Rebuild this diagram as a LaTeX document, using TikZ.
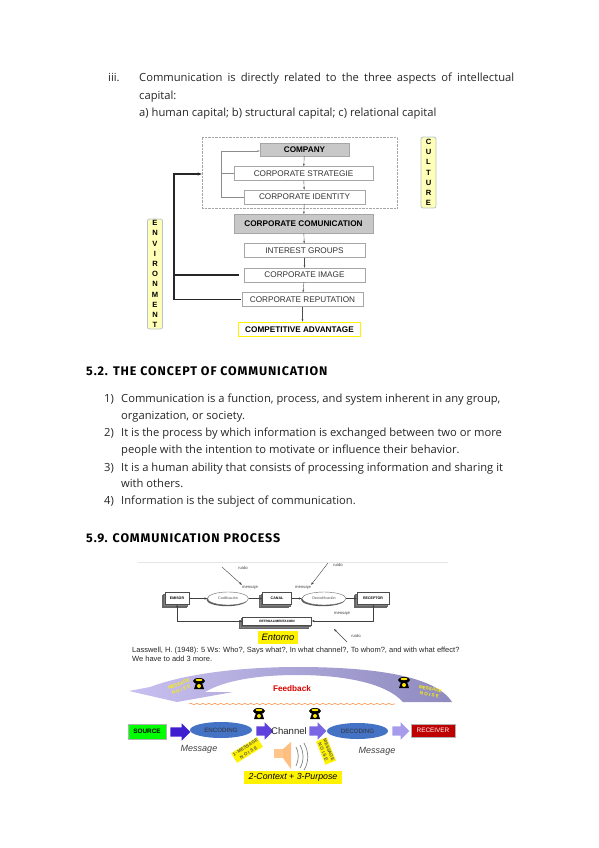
\documentclass[tikz,border=0pt]{standalone}
\usepackage{fontspec}
\setmainfont{Open Sans}
\newfontfamily\arialfont{Liberation Sans}
\newfontfamily\headfont[LetterSpace=7]{Fira Sans}
\usetikzlibrary{arrows.meta,positioning,shapes.geometric,shapes.arrows,shadows,decorations.pathmorphing}
\definecolor{bodyink}{HTML}{262626}
\definecolor{boxgrey}{HTML}{C8C8C8}
\definecolor{boxedge}{HTML}{A6A6A6}
\definecolor{notefill}{HTML}{FFFFB8}
\definecolor{noteedge}{HTML}{B5C4CC}
\definecolor{ovalblue}{HTML}{4472C4}
\definecolor{arrowone}{HTML}{3D1FCF}
\definecolor{arrowtwo}{HTML}{5F40DC}
\definecolor{arrowthree}{HTML}{7A66E4}
\definecolor{arrowfour}{HTML}{A79CEC}
\definecolor{backlight}{HTML}{C8C0F0}
\definecolor{backdark}{HTML}{8E8ABF}
\newcommand{\sz}[1]{\fontsize{#1}{#1}\selectfont}
\tikzset{
  para/.style={anchor=base west, inner sep=0pt, text=bodyink, font=\sz{11.2}},
  heading/.style={anchor=base west, inner sep=0pt, text=black, font=\headfont\bfseries\sz{12.5}},
  plainbox/.style={draw=boxedge, fill=white, inner sep=0pt, minimum height=14pt, font=\arialfont\sz{8.2}, text=black!80},
  greybox/.style={draw=boxedge, fill=boxgrey, inner sep=0pt, font=\arialfont\bfseries\sz{8.2}},
  sidenote/.style={draw=noteedge, thick, fill=notefill, rounded corners=2pt, inner sep=0pt, align=center, font=\arialfont\bfseries\sz{7.6}},
  tinyflow/.style={-{Stealth[length=2.5pt]}, draw=black!70, thin},
  envline/.style={line width=1.1pt, draw=black!85},
  loopline/.style={draw=black!45, line width=.6pt},
  shadowbox/.style={draw=black!70, fill=white, inner sep=0pt, minimum height=12pt, font=\arialfont\bfseries\sz{3.6},
                    double copy shadow={shadow xshift=-1.5pt, shadow yshift=-1.5pt, draw=black!60, fill=black!50}},
  codeoval/.style={ellipse, draw=black!60, fill=white, inner sep=0pt, minimum height=13pt, font=\arialfont\sz{3.6}, text=black!70,
                   copy shadow={shadow xshift=-1pt, shadow yshift=-1.2pt, draw=none, fill=black!65}},
  smalllabel/.style={inner sep=0pt, font=\arialfont\sz{4.2}, text=black!75},
  smallflow/.style={-{Stealth[length=3pt]}, draw=black!75, line width=.4pt},
  blockarrow/.style={single arrow, draw=none, inner sep=0pt, minimum height=17pt, single arrow head extend=4pt, single arrow head indent=0pt},
  procoval/.style={ellipse, fill=ovalblue, inner sep=0pt, font=\arialfont\sz{6.2}, text=black!80},
  msglabel/.style={inner sep=0pt, font=\arialfont\itshape\sz{9}, text=black!75},
  noiselabel/.style={inner sep=1pt, align=center, font=\arialfont\bfseries\sz{4.6}},
  noisephone/.pic={
    \fill[black] (-5,5) -- (-3,-1) -- (3,-1) -- (5,5) -- cycle;
    \fill[black] (0,-3) ellipse (6 and 3);
    \fill[yellow!85!orange] (0,-4) ellipse (3.5 and 1.2);
    \fill[yellow!85!orange] (0,2) circle (2);
  },
}
\begin{document}
\begin{tikzpicture}[x=1pt, y=-1pt]
\useasboundingbox (0,0) rectangle (599,848);
% page text, top
\node[para] (numiii) at (108,82) {iii.};
\node[para] (iiia) at (139,82) {\makebox[375pt][s]{Communication is directly related to the three aspects of intellectual}};
\node[para] (iiib) at (139,100) {capital:};
\node[para] (iiic) at (139,117) {a) human capital; b) structural capital; c) relational capital};
% company diagram
\node[draw=black!35, densely dotted, inner sep=0pt, minimum width=195pt, minimum height=71pt] (culturebox) at (299.5,172.5) {};
\node[greybox, minimum width=89pt, minimum height=13pt] (company) at (304.5,149.5) {COMPANY};
\node[plainbox, minimum width=139pt, below=10pt of company, xshift=-1pt] (strategie) {CORPORATE STRATEGIE};
\node[plainbox, minimum width=121pt, below=9pt of strategie, xshift=1pt] (identity) {CORPORATE IDENTITY};
\node[greybox, minimum width=139pt, minimum height=19pt, below=10pt of identity, xshift=-1pt] (comunication) {CORPORATE COMUNICATION};
\node[plainbox, minimum width=121pt, below=10pt of comunication, xshift=1pt] (interest) {INTEREST GROUPS};
\node[plainbox, minimum width=121pt, below=10pt of interest] (image) {CORPORATE IMAGE};
\node[plainbox, minimum width=121pt, below=10pt of image, xshift=-2pt] (reputation) {CORPORATE REPUTATION};
\node[plainbox, minimum width=122pt, below=15pt of reputation, xshift=-3pt, draw=yellow, line width=1.2pt, font=\arialfont\bfseries\sz{8.2}, text=black] (advantage) {COMPETITIVE ADVANTAGE};
\node[sidenote, minimum width=15pt, minimum height=71pt] (culture) at (428.5,172.5) {C\\[2.6pt]U\\[2.6pt]L\\[2.6pt]T\\[2.6pt]U\\[2.6pt]R\\[2.6pt]E};
\node[sidenote, minimum width=15pt, minimum height=110pt] (environment) at (155,274) {E\\[2.6pt]N\\[2.6pt]V\\[2.6pt]I\\[2.6pt]R\\[2.6pt]O\\[2.6pt]N\\[2.6pt]M\\[2.6pt]E\\[2.6pt]N\\[2.6pt]T};
\draw[tinyflow] (company) -- (strategie);
\draw[tinyflow] (strategie) -- (identity);
\draw[tinyflow] (identity) -- (comunication);
\draw[tinyflow] (comunication) -- (interest);
\draw[tinyflow] (interest) -- (image);
\draw[tinyflow] (image) -- (reputation);
\draw[tinyflow] (reputation) -- (reputation |- advantage.north);
\coordinate (loopx) at (221,151);
\draw[loopline] (identity.west) -| (loopx);
\draw[loopline, -{Stealth[length=2.5pt]}] (loopx) -- (company.west |- loopx);
\draw[loopline] (strategie.west) -- (strategie.west -| loopx);
\coordinate (envx) at (174,174);
\draw[envline, -{Stealth[length=4pt]}] ([xshift=-5pt]image.west) -| (envx) -- (culturebox.west |- envx);
\draw[envline] ([xshift=-1pt]reputation.west) -| (envx);
% section 5.2
\node[heading] (headb) at (86,375) {5.2. THE CONCEPT OF COMMUNICATION};
\node[para] (lia) at (104,402) {1)};
\node[para] (lib) at (121,402) {Communication is a function, process, and system inherent in any group,};
\node[para] (lic) at (121,419) {organization, or society.};
\node[para] (lid) at (104,436) {2)};
\node[para] (lie) at (121,436) {It is the process by which information is exchanged between two or more};
\node[para] (lif) at (121,453) {people with the intention to motivate or influence their behavior.};
\node[para] (lig) at (104,471) {3)};
\node[para] (lih) at (121,471) {It is a human ability that consists of processing information and sharing it};
\node[para] (lii) at (121,487) {with others.};
\node[para] (lij) at (104,504) {4)};
\node[para] (lik) at (121,504) {Information is the subject of communication.};
\node[heading] (headc) at (86,542) {5.9. COMMUNICATION PROCESS};
% spanish model
\coordinate (rulea) at (138,562);
\coordinate (ruleb) at (448,562);
\draw[black!10, line width=.4pt] (rulea) -- (ruleb);
\node[shadowbox, minimum width=24pt] (emisor) at (177,598.5) {EMISOR};
\node[codeoval, minimum width=41pt] (codif) at (228,598.5) {Codificación};
\node[shadowbox, minimum width=29pt] (canal) at (277,598.5) {CANAL};
\node[codeoval, minimum width=44pt] (decod) at (324,598.5) {Decodificación};
\node[shadowbox, minimum width=32pt] (receptor) at (373,598.5) {RECEPTOR};
\node[shadowbox, minimum width=69pt, minimum height=8pt, font=\arialfont\bfseries\sz{3.2}] (retro) at (277,621) {RETROALIMENTACION};
\node[fill=yellow, inner sep=0pt, minimum width=40pt, minimum height=13pt, font=\arialfont\itshape\sz{9.3}] (entorno) at (278,637.5) {Entorno};
\draw[smallflow] (emisor) -- (codif);
\draw[smallflow] (codif) -- (canal);
\draw[smallflow] (canal) -- (decod);
\draw[smallflow] (decod) -- (receptor);
\draw[smallflow] (receptor.south) |- (retro.east);
\draw[smallflow] (retro.west) -| (emisor.south);
\node[smalllabel] (ruidoa) at (243,568) {ruido};
\node[smalllabel] (ruidob) at (338,565) {ruido};
\node[smalllabel] (ruidoc) at (356,636) {ruido};
\node[smalllabel] (mensajea) at (250,587) {mensaje};
\node[smalllabel] (mensajeb) at (303,587) {mensaje};
\node[smalllabel] (mensajec) at (342,613) {mensaje};
\coordinate (noisea) at (222,567);
\coordinate (noiseb) at (328,563);
\coordinate (noisec) at (347,642);
\coordinate (noised) at (334,629);
\draw[smallflow] (noisea) -- (mensajea.north west);
\draw[smallflow] (noiseb) -- (mensajeb.north east);
\draw[smallflow] (noisec) -- (noised);
\node[anchor=base west, inner sep=0pt, font=\arialfont\sz{7.5}, text=black!85] (lasswella) at (132,652.5) {Lasswell, H. (1948): 5 Ws: Who?, Says what?, In what channel?, To whom?, and with what effect?};
\node[anchor=base west, inner sep=0pt, font=\arialfont\sz{7.5}, text=black!85] (lasswellb) at (132,661.5) {We have to add 3 more.};
% feedback arrow
\shade[left color=backlight, right color=backdark, draw=none]
  (129,691) -- (150,687) .. controls (190,672) and (250,667) .. (297,667)
  .. controls (370,667) and (435,675) .. (452,702) -- (403,702)
  .. controls (385,682) and (340,675) .. (297,675)
  .. controls (260,675) and (225,680) .. (205,692) -- (233,692) -- (177,702) -- cycle;
\node[inner sep=0pt, font=\arialfont\bfseries\sz{8.2}, text=red!85!black] (feedback) at (292,689) {Feedback};
\coordinate (wavea) at (189,704);
\coordinate (waveb) at (395,704);
\draw[orange!80!red!70, line width=.6pt, decorate, decoration={snake, amplitude=.6pt, segment length=6pt}] (wavea) -- (waveb);
\node[noiselabel, text=yellow, rotate=22] (noiseleft) at (180,687) {MESSAGE\\[1.5pt]N O I S E};
\node[noiselabel, text=yellow, rotate=-10] (noiseright) at (430,692) {MESSAGE\\[1.5pt]N O I S E};
\pic at (199,684) {noisephone};
\pic at (404,683) {noisephone};
\pic at (259,714) {noisephone};
\pic at (315,714) {noisephone};
% process row
\node[draw=black!30, fill=green, inner sep=0pt, minimum width=38pt, minimum height=15pt, font=\arialfont\bfseries\sz{6.4}] (source) at (147,731.5) {SOURCE};
\node[blockarrow, fill=arrowone, minimum height=20pt] (arrowa) at (178,732) {\rule{0pt}{9pt}};
\node[procoval, minimum width=62pt, minimum height=16pt] (encoding) at (221,730) {ENCODING};
\node[blockarrow, fill=arrowtwo] (arrowb) at (262.5,731) {\rule{0pt}{9pt}};
\node[inner sep=0pt, font=\arialfont\sz{9.6}, text=black!85] (channel) at (289,731) {Channel};
\node[blockarrow, fill=arrowthree] (arrowc) at (315.5,731) {\rule{0pt}{9pt}};
\node[procoval, minimum width=61pt, minimum height=16pt] (decoding) at (357.5,731) {DECODING};
\node[blockarrow, fill=arrowfour] (arrowd) at (398.5,731) {\rule{0pt}{9pt}};
\node[draw=black!30, fill=red!75!black, inner sep=0pt, minimum width=44pt, minimum height=13pt, font=\arialfont\sz{6.4}, text=white] (receiver) at (433,730.5) {RECEIVER};
\node[msglabel] (msga) at (199,749) {Message};
\node[msglabel] (msgb) at (377,751) {Message};
\node[noiselabel, fill=yellow, rotate=32, text=black!65] (noisefirst) at (247,750) {1- MESSAGE\\[1.5pt]N O I S E};
\node[noiselabel, fill=yellow, rotate=-68, text=black!65] (noisethird) at (326,751) {MESSAGE\\[1.5pt]N O I S E};
% speaker
\fill[orange!45!white] (274,749) rectangle (283,758);
\fill[orange!50!white] (283,749) -- (291,742) -- (291,769) -- (283,758) -- cycle;
\draw[black!50, line width=.7pt] (296,747) .. controls (299,752) and (299,760) .. (296,766);
\draw[black!50, line width=.7pt] (300,745) .. controls (304,752) and (304,762) .. (300,768);
\draw[black!50, line width=.7pt] (304,743) .. controls (309,752) and (309,762) .. (304,770);
\node[fill=yellow, inner sep=0pt, minimum width=98pt, minimum height=13pt, font=\arialfont\itshape\sz{8.8}] (purpose) at (293,777.5) {2-Context + 3-Purpose};
\end{tikzpicture}
\end{document}
